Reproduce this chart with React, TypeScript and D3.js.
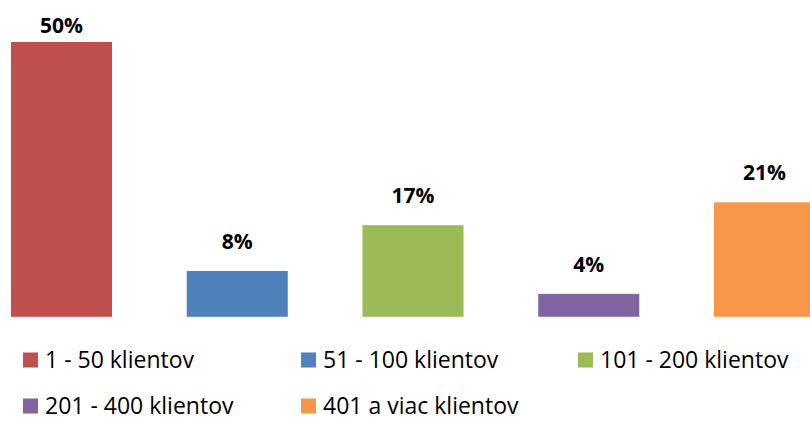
import React from "react";
import * as d3 from "d3";

const categories = ["1 - 50 klientov", "51 - 100 klientov", "101 - 200 klientov", "201 - 400 klientov", "401 a viac klientov"];
const values = [50, 8.33, 16.67, 4.17, 20.83];
const labels = ["50%", "8%", "17%", "4%", "21%"];
const colors = ["#C0504D", "#4F81BD", "#9BBB59", "#8064A2", "#F79646"];

const W = 810;
const H = 421;

export default function App() {
  const x = d3
    .scaleBand<string>()
    .domain(categories)
    .range([-26.4, 852.4])
    .paddingInner(0.425)
    .paddingOuter(0.2125);
  const y = d3.scaleLinear().domain([0, 50]).range([316.8, 42]);

  const legendCols = [23, 301, 578];
  const legendRows = [360, 406];
  const legendPos = categories.map((_, i) => ({
    x: legendCols[i % 3],
    y: legendRows[Math.floor(i / 3)],
  }));

  return (
    <svg
      width={W}
      height={H}
      style={{ position: "absolute", left: 0, top: 0, background: "#fff" }}
      fontFamily="'Open Sans', sans-serif"
    >
      {categories.map((c, i) => (
        <rect
          key={c}
          x={x(c)}
          y={y(values[i])}
          width={x.bandwidth()}
          height={y(0) - y(values[i])}
          fill={colors[i]}
        />
      ))}
      {categories.map((c, i) => (
        <text
          key={"l" + c}
          x={(x(c) as number) + x.bandwidth() / 2}
          y={Math.max(y(values[i]) - 22, 33)}
          textAnchor="middle"
          fontWeight="bold"
          fontSize={21}
          fill="#000"
        >
          {labels[i]}
        </text>
      ))}
      {categories.map((c, i) => (
        <g key={"g" + c} transform={`translate(${legendPos[i].x},${legendPos[i].y})`}>
          <rect x={0} y={-7.5} width={15} height={15} fill={colors[i]} />
          <text x={22} y={8} fontSize={23} fill="#000">
            {c}
          </text>
        </g>
      ))}
    </svg>
  );
}
